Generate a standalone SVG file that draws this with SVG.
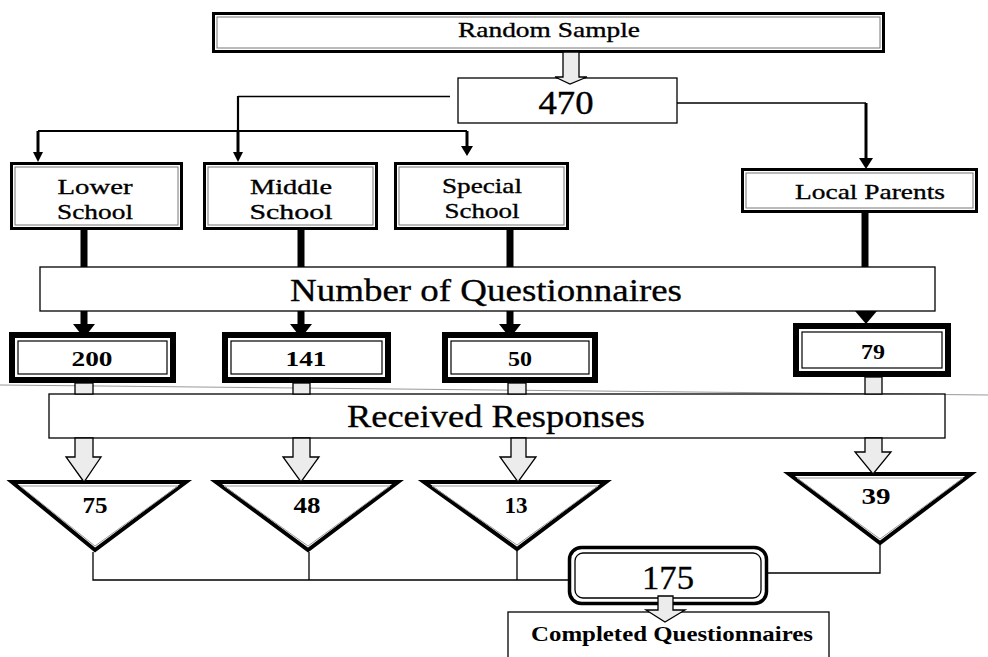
<svg xmlns="http://www.w3.org/2000/svg" width="988" height="657" viewBox="0 0 988 657">
  <style>
    text { font-family: "Liberation Serif", "DejaVu Serif", serif; fill: #000; text-anchor: middle; }
    .lbl { font-size: 22px; stroke: #000; stroke-width: 0.35; }
    .big { font-size: 31px; stroke: #000; stroke-width: 0.3; }
    .num { font-size: 22px; font-weight: bold; }
    .tri { font-size: 23px; font-weight: bold; }
    .frame { fill: #fff; stroke: #000; stroke-width: 3; }
    .frame-in { fill: none; stroke: #777; stroke-width: 1; }
    .plain { fill: #fff; stroke: #000; stroke-width: 1.3; }
    .heavy { fill: #fff; stroke: #000; stroke-width: 6; }
    .heavy-in { fill: none; stroke: #000; stroke-width: 1.2; }
    .trio { fill: #fff; stroke: #000; stroke-width: 4; stroke-linejoin: miter; }
    .trio-in { fill: none; stroke: #999; stroke-width: 1; }
    .line { fill: none; stroke: #000; stroke-width: 1.3; }
    .bus { fill: none; stroke: #000; stroke-width: 2.2; }
    .drop { fill: none; stroke: #000; stroke-width: 3; }
    .bar { fill: none; stroke: #000; stroke-width: 7; }
    .head { fill: #000; stroke: none; }
    .hollow { fill: #ececec; stroke: #000; stroke-width: 1.3; stroke-linejoin: miter; }
  </style>

  <!-- faint scanner streak behind the middle row -->
  <line x1="0" y1="385" x2="988" y2="395" stroke="#999" stroke-width="1"/>

  <!-- nodes -->
  <g id="random-sample">
    <rect class="frame" x="213.5" y="13.5" width="670" height="38"/>
    <rect class="frame-in" x="217" y="17" width="663" height="31"/>
    <text class="lbl" x="549" y="37" font-size="21" textLength="182" lengthAdjust="spacingAndGlyphs">Random Sample</text>
  </g>

  <g id="n470">
    <rect class="plain" x="458" y="78" width="219" height="45"/>
    <text x="566" y="114" font-size="33" stroke="#000" stroke-width="0.4" textLength="55" lengthAdjust="spacingAndGlyphs">470</text>
  </g>

  <g id="lower-school">
    <rect class="frame" x="11.5" y="163.5" width="170" height="65"/>
    <rect class="frame-in" x="15" y="167" width="163" height="58"/>
    <text class="lbl" x="95" y="194" textLength="75" lengthAdjust="spacingAndGlyphs">Lower</text>
    <text class="lbl" x="95" y="219" textLength="76" lengthAdjust="spacingAndGlyphs">School</text>
  </g>

  <g id="middle-school">
    <rect class="frame" x="204.5" y="163.5" width="172" height="65"/>
    <rect class="frame-in" x="208" y="167" width="165" height="58"/>
    <text class="lbl" x="291" y="194" textLength="82" lengthAdjust="spacingAndGlyphs">Middle</text>
    <text class="lbl" x="291" y="219" textLength="83" lengthAdjust="spacingAndGlyphs">School</text>
  </g>

  <g id="special-school">
    <rect class="frame" x="395.5" y="163.5" width="172" height="65"/>
    <rect class="frame-in" x="399" y="167" width="165" height="58"/>
    <text class="lbl" x="482" y="193" textLength="80" lengthAdjust="spacingAndGlyphs">Special</text>
    <text class="lbl" x="482" y="218" textLength="75" lengthAdjust="spacingAndGlyphs">School</text>
  </g>

  <g id="local-parents">
    <rect class="frame" x="742.5" y="169.5" width="234" height="42"/>
    <rect class="frame-in" x="746" y="173" width="227" height="35"/>
    <text class="lbl" x="870" y="199" textLength="150" lengthAdjust="spacingAndGlyphs">Local Parents</text>
  </g>

  <g id="number-of-questionnaires">
    <rect class="plain" x="40" y="267" width="895" height="44"/>
    <text class="big" x="486" y="301" textLength="392" lengthAdjust="spacingAndGlyphs">Number of Questionnaires</text>
  </g>

  <g id="q200">
    <rect class="heavy" x="12" y="335" width="161" height="45"/>
    <rect class="heavy-in" x="18" y="341" width="149" height="33"/>
    <text class="num" x="92" y="366" textLength="41" lengthAdjust="spacingAndGlyphs">200</text>
  </g>

  <g id="q141">
    <rect class="heavy" x="225" y="335" width="163" height="45"/>
    <rect class="heavy-in" x="231" y="341" width="151" height="33"/>
    <text class="num" x="306" y="366" textLength="41" lengthAdjust="spacingAndGlyphs">141</text>
  </g>

  <g id="q50">
    <rect class="heavy" x="445" y="335" width="150" height="45"/>
    <rect class="heavy-in" x="451" y="341" width="138" height="33"/>
    <text class="num" x="520" y="366" textLength="24" lengthAdjust="spacingAndGlyphs">50</text>
  </g>

  <g id="q79">
    <rect class="heavy" x="796" y="326" width="152" height="48"/>
    <rect class="heavy-in" x="802" y="332" width="140" height="36"/>
    <text class="num" x="873" y="359" textLength="24" lengthAdjust="spacingAndGlyphs">79</text>
  </g>

  <g id="received-responses">
    <rect class="plain" x="49" y="394" width="896" height="44"/>
    <text class="big" x="496" y="427" textLength="298" lengthAdjust="spacingAndGlyphs">Received Responses</text>
  </g>

  <g id="r75">
    <polygon class="trio" points="12,482 186,482 95,550"/>
    <polygon class="trio-in" points="20,486 178,486 95,546"/>
    <text class="tri" x="95" y="513" textLength="25" lengthAdjust="spacingAndGlyphs">75</text>
  </g>

  <g id="r48">
    <polygon class="trio" points="216,482 398,482 308,550"/>
    <polygon class="trio-in" points="224,486 390,486 308,546"/>
    <text class="tri" x="307" y="513" textLength="27" lengthAdjust="spacingAndGlyphs">48</text>
  </g>

  <g id="r13">
    <polygon class="trio" points="424,482 606,482 517,549"/>
    <polygon class="trio-in" points="432,486 598,486 517,545"/>
    <text class="tri" x="516" y="513" textLength="23" lengthAdjust="spacingAndGlyphs">13</text>
  </g>

  <g id="r39">
    <polygon class="trio" points="789,474 971,474 880,543"/>
    <polygon class="trio-in" points="797,478 963,478 880,539"/>
    <text class="tri" x="876" y="504" textLength="29" lengthAdjust="spacingAndGlyphs">39</text>
  </g>

  <g id="total-175">
    <rect x="569.5" y="547.5" width="197" height="56" rx="12" fill="#fff" stroke="#000" stroke-width="3.5"/>
    <rect x="575" y="553" width="186" height="45" rx="8" fill="none" stroke="#000" stroke-width="1.3"/>
    <text x="668" y="589" font-size="33" stroke="#000" stroke-width="0.3" textLength="52" lengthAdjust="spacingAndGlyphs">175</text>
  </g>

  <g id="completed-questionnaires">
    <rect class="plain" x="508" y="612" width="321" height="55"/>
    <text x="672" y="641" font-size="22" font-weight="bold" textLength="282" lengthAdjust="spacingAndGlyphs">Completed Questionnaires</text>
  </g>

  <!-- connectors -->
  <g id="connectors">
    <!-- sample to 470 -->
    <path class="hollow" d="M563,52 V77 H555 L570,84 L587,77 H579 V52 Z"/>

    <!-- 470 to the schools -->
    <path class="line" d="M450,96.5 H238"/>
    <path class="bus" d="M238,96 V131"/>
    <path class="bus" d="M38,131 H467"/>
    <path class="drop" d="M38,131 V153"/>
    <polygon class="head" points="33,152 43,152 38,162"/>
    <path class="drop" d="M238,131 V153"/>
    <polygon class="head" points="233,152 243,152 238,162"/>
    <path class="drop" d="M467,131 V147"/>
    <polygon class="head" points="461,146 473,146 467,156"/>

    <!-- 470 to local parents -->
    <path class="line" d="M677,103 H866"/>
    <path class="drop" d="M866,103 V159"/>
    <polygon class="head" points="859,158 873,158 866,169"/>

    <!-- sources into the questionnaire bar -->
    <path class="bar" d="M84,230 V267"/>
    <path class="bar" d="M301,230 V267"/>
    <path class="bar" d="M510,230 V267"/>
    <path class="bar" d="M865,213 V267"/>

    <!-- questionnaire bar to counts -->
    <path class="bar" d="M84,311 V326"/>
    <polygon class="head" points="73,324 95,324 84,338"/>
    <path class="bar" d="M301,311 V326"/>
    <polygon class="head" points="290,324 312,324 301,338"/>
    <path class="bar" d="M510,311 V326"/>
    <polygon class="head" points="499,324 521,324 510,338"/>
    <polygon class="head" points="855,311 877,311 866,324"/>

    <!-- counts to responses bar -->
    <rect class="hollow" x="75" y="383" width="18" height="11"/>
    <rect class="hollow" x="293" y="383" width="17" height="11"/>
    <rect class="hollow" x="508" y="383" width="18" height="11"/>
    <rect class="hollow" x="865" y="377" width="17" height="17"/>

    <!-- responses bar to returned counts -->
    <path class="hollow" d="M75,438 V457 H66 L84,482 L101,457 H93 V438 Z"/>
    <path class="hollow" d="M293,438 V457 H283 L301,482 L319,457 H310 V438 Z"/>
    <path class="hollow" d="M511,438 V457 H500 L518,482 L536,457 H526 V438 Z"/>
    <path class="hollow" d="M865,438 V452 H855 L873,474 L891,452 H882 V438 Z"/>

    <!-- returned counts to total -->
    <path class="line" d="M93,552 V580 H569"/>
    <path class="line" d="M309,552 V580"/>
    <path class="line" d="M517,551 V580"/>
    <path class="line" d="M880,545 V573 H767"/>

    <!-- total to completed -->
    <path class="hollow" d="M658,596 V610 H646 L665,622 L685,610 H673 V596 Z"/>
  </g>
</svg>
